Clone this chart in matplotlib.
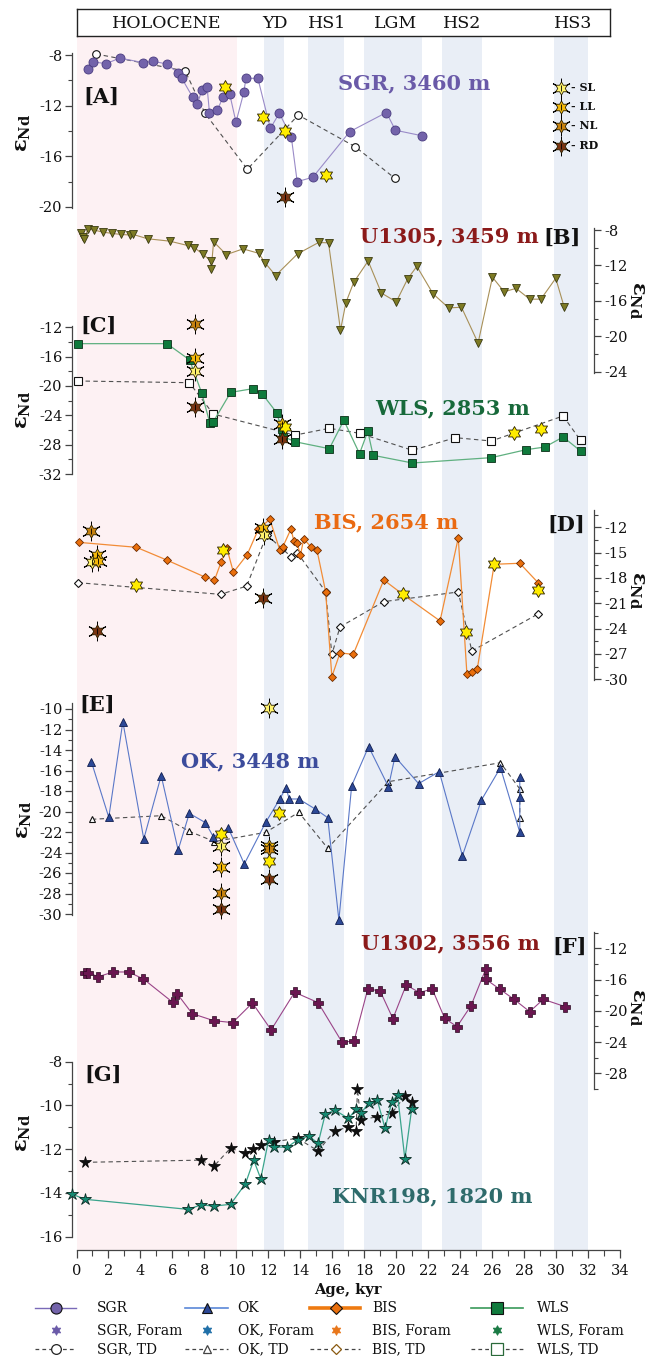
import matplotlib
matplotlib.use("Agg")
import matplotlib.pyplot as plt
from matplotlib.path import Path
from matplotlib.ticker import MultipleLocator

plt.rcParams['font.family'] = ['DejaVu Serif']
plt.rcParams['mathtext.fontset'] = 'dejavuserif'
plt.rcParams['axes.unicode_minus'] = False

# ---------------- DATA ----------------
# period bands (kyr)
period_names = ['HOLOCENE', 'YD', 'HS1', 'LGM', 'HS2', 'HS3']
period_label_age = [5.62, 12.41, 15.67, 19.96, 24.12, 31.1]
holocene_span = (0.0, 10.03)
band_starts = [11.76, 14.48, 18.02, 22.85, 29.86]
band_ends = [12.98, 16.75, 21.64, 25.36, 31.98]

# [A] SGR, 3460 m
sgr_age = [0.70, 1.06, 1.86, 2.71, 4.16, 4.81, 5.66, 6.33, 6.59, 7.26, 7.55, 7.86, 8.17, 8.32, 8.82,
           9.18, 9.59, 9.98, 10.47, 10.60, 11.35, 12.13, 12.69, 13.44, 13.81, 14.79, 17.10, 19.39, 19.96, 21.64]
sgr_end = [-9.10, -8.55, -8.68, -8.24, -8.60, -8.50, -8.71, -9.39, -9.84, -11.31, -11.89, -10.76, -10.50, -12.54,
           -12.34, -11.28, -11.10, -13.30, -10.95, -9.84, -9.84, -13.79, -12.60, -14.45, -18.00, -17.65, -14.05,
           -12.54, -13.94, -14.38]
sgr_td_age = [1.22, 6.80, 8.04, 10.69, 13.88, 17.45, 19.91]
sgr_td_end = [-7.92, -9.26, -12.60, -17.02, -12.74, -15.25, -17.72]
sgr_foram_age = [9.29, 11.69, 13.05, 15.61, 13.05]
sgr_foram_end = [-10.50, -12.87, -13.97, -17.47, -19.23]
sgr_foram_kind = ['Y', 'Y', 'Y', 'Y', 'RD']

# [B] U1305, 3459 m
u1305_age = [0.31, 0.39, 0.47, 0.72, 1.09, 1.63, 2.20, 2.77, 3.36, 3.54, 4.45, 5.84, 6.95, 7.37, 7.91, 8.43,
             8.43, 8.58, 9.38, 10.42, 11.40, 11.81, 12.46, 13.83, 15.15, 15.77, 16.52, 16.86, 17.35, 18.25,
             19.08, 20.01, 20.73, 21.30, 22.31, 23.29, 24.09, 25.13, 26.03, 26.76, 27.51, 28.36, 29.06, 29.99,
             30.51]
u1305_end = [-8.30, -8.76, -9.07, -7.89, -8.00, -8.23, -8.38, -8.50, -8.57, -8.50, -8.99, -9.26, -9.75, -9.98,
             -10.74, -11.50, -12.42, -9.33, -10.78, -10.13, -10.63, -11.73, -13.14, -10.70, -9.41, -9.45, -19.31,
             -16.19, -13.90, -11.50, -15.12, -16.11, -13.49, -12.11, -15.20, -16.80, -16.72, -20.76, -13.33,
             -14.97, -14.59, -15.81, -15.81, -13.45, -16.65]

# [C] WLS, 2853 m
wls_age = [0.08, 5.66, 7.08, 7.83, 8.35, 8.56, 9.65, 11.03, 11.63, 12.53, 12.84, 12.95, 13.67, 15.82, 16.73,
           17.71, 18.23, 18.56, 21.02, 25.96, 28.15, 29.32, 30.45, 31.54]
wls_end = [-14.23, -14.23, -16.45, -20.92, -25.10, -24.88, -20.87, -20.37, -21.10, -23.65, -25.90, -26.90,
           -27.60, -28.55, -24.68, -29.23, -26.18, -29.45, -30.50, -29.77, -28.68, -28.32, -26.95, -28.86]
wls_td_age = [0.08, 7.06, 8.56, 13.67, 15.82, 17.71, 21.02, 23.71, 25.96, 30.45, 31.54]
wls_td_end = [-19.32, -19.55, -23.83, -26.70, -25.77, -26.45, -28.77, -27.05, -27.50, -24.09, -27.41]
wls_foram_age = [7.42, 7.42, 7.42, 7.42, 12.84, 13.05, 12.84, 27.35, 29.08]
wls_foram_end = [-11.55, -16.23, -17.96, -22.90, -25.20, -25.60, -27.20, -26.45, -25.91]
wls_foram_kind = ['NL', 'LL', 'SL', 'RD', 'LL', 'Y', 'RD', 'Y', 'Y']

# [D] BIS, 2654 m
bis_age = [0.13, 3.75, 5.64, 8.07, 8.63, 9.05, 9.41, 9.82, 10.68, 11.38, 12.10, 12.72, 12.90, 13.42, 13.60,
           13.81, 14.01, 14.22, 14.66, 15.05, 15.59, 15.98, 16.49, 17.32, 19.23, 20.42, 22.75, 23.89, 24.43,
           24.77, 25.08, 26.14, 27.74, 28.88]
bis_end = [-13.78, -14.37, -15.87, -17.92, -18.28, -16.11, -14.49, -17.33, -15.24, -12.24, -11.05, -14.68,
           -14.37, -12.20, -13.58, -13.82, -15.32, -13.38, -14.29, -14.72, -19.62, -29.69, -26.88, -27.04,
           -18.24, -19.94, -23.09, -13.26, -29.33, -29.09, -28.78, -16.38, -16.26, -18.55]
bis_td_age = [0.11, 9.02, 10.65, 11.90, 12.87, 13.42, 13.81, 15.59, 15.98, 16.49, 19.23, 23.89, 24.74, 28.88]
bis_td_end = [-18.56, -19.94, -18.96, -12.90, -14.53, -15.47, -15.00, -19.62, -27.04, -23.80, -20.80, -19.66,
              -26.65, -22.26]
bis_foram_age = [0.91, 1.26, 0.95, 1.33, 1.30, 3.70, 9.15, 11.69, 11.75, 11.69, 20.42, 24.35, 26.14, 28.88]
bis_foram_end = [-12.40, -15.28, -16.07, -16.00, -24.25, -18.84, -14.69, -12.12, -12.91, -20.34, -19.94,
                 -24.36, -16.38, -19.42]
bis_foram_kind = ['NL', 'LL', 'SL', 'LL', 'RD', 'Y', 'Y', 'LL', 'SL', 'RD', 'Y', 'Y', 'Y', 'Y']

# [E] OK, 3448 m
ok_age = [0.93, 2.02, 2.90, 4.21, 5.30, 6.36, 7.06, 8.07, 8.56, 9.51, 10.50, 11.84, 12.72, 13.11, 13.31, 13.91,
          14.94, 15.72, 16.42, 17.22, 18.28, 19.52, 19.93, 21.41, 22.70, 24.15, 25.34, 26.53, 27.74, 27.74, 27.74]
ok_end = [-15.14, -20.57, -11.24, -22.68, -16.50, -23.76, -20.18, -21.09, -22.46, -21.64, -25.12, -21.06,
          -18.78, -17.67, -18.78, -18.78, -19.76, -20.60, -30.59, -17.48, -13.67, -17.58, -14.65, -17.28,
          -16.11, -24.31, -18.88, -15.72, -22.03, -18.62, -16.67]
ok_td_age = [0.96, 5.30, 7.06, 8.63, 11.84, 13.91, 15.72, 19.52, 26.53, 27.74, 27.74]
ok_td_end = [-20.76, -20.41, -21.93, -22.94, -22.03, -20.08, -23.59, -17.09, -15.24, -17.80, -20.67]
ok_foram_age = [12.05, 9.02, 9.02, 9.02, 9.02, 9.02, 12.67, 12.05, 12.05, 12.05, 12.05]
ok_foram_end = [-9.93, -22.20, -23.33, -25.38, -27.92, -29.54, -20.10, -23.33, -23.65, -24.80, -26.60]
ok_foram_kind = ['SL', 'Y', 'SL', 'LL', 'NL', 'RD', 'Y', 'LL', 'NL', 'Y', 'RD']

# [F] U1302, 3556 m
u1302_age = [0.52, 0.70, 1.37, 2.30, 3.26, 4.19, 6.02, 6.31, 7.24, 8.58, 9.77, 11.01, 12.18, 13.65, 15.12,
             16.62, 17.37, 18.23, 19.00, 19.80, 20.63, 21.46, 22.26, 23.04, 23.81, 24.69, 25.62, 25.62, 26.50,
             27.38, 28.36, 29.21, 30.58]
u1302_end = [-15.11, -15.11, -15.63, -15.03, -15.03, -15.93, -18.91, -17.84, -20.36, -21.26, -21.51, -19.00,
             -22.45, -17.63, -18.95, -24.03, -23.86, -17.20, -17.46, -21.00, -16.69, -17.67, -17.20, -20.96,
             -22.03, -19.34, -14.60, -15.97, -17.25, -18.53, -20.11, -18.53, -19.47]

# [G] KNR198, 1820 m
knr_age = [-0.26, 0.54, 6.98, 7.78, 8.61, 9.64, 10.57, 11.09, 11.53, 12.02, 12.33, 13.16, 13.83, 14.53, 15.12,
           15.56, 16.16, 17.01, 17.50, 17.79, 18.28, 18.82, 19.31, 19.73, 20.09, 20.55, 20.97]
knr_end = [-14.06, -14.29, -14.75, -14.55, -14.60, -14.52, -13.58, -12.50, -13.35, -11.58, -11.89, -11.92,
           -11.58, -11.40, -11.73, -10.41, -10.21, -10.59, -10.18, -10.36, -9.90, -9.75, -11.05, -9.84, -9.52,
           -12.45, -10.18]
knr_td_age = [0.54, 7.78, 8.61, 9.64, 10.57, 11.04, 11.53, 12.33, 13.83, 15.12, 16.16, 17.01, 17.50, 17.58,
              17.79, 18.82, 19.73, 20.55, 20.97]
knr_td_end = [-12.60, -12.50, -12.77, -11.95, -12.19, -12.01, -11.82, -11.66, -11.50, -12.08, -11.15, -11.00,
              -11.17, -9.26, -10.67, -10.51, -10.36, -9.57, -9.83]

x_ticks = list(range(0, 35, 2))

# ---------------- LAYOUT ----------------
W, H = 647, 1356
fig = plt.figure(figsize=(W / 100, H / 100), dpi=100)

X0 = 76.5       # px of age 0
PXK = 15.98     # px per kyr
XL = (-0.28, 34.3)


def xpx(age):
    return X0 + age * PXK


AX_L = xpx(XL[0]) / W
AX_W = (xpx(XL[1]) - xpx(XL[0])) / W
RIGHT_SPINE = 32.4
TOP_SHADE, BOT_SHADE = 36.0, 1249.8

# background shading
bg = fig.add_axes([AX_L, 1 - BOT_SHADE / H, AX_W, (BOT_SHADE - TOP_SHADE) / H], zorder=0)
bg.set_xlim(XL)
bg.set_ylim(0, 1)
bg.axis('off')
bg.axvspan(*holocene_span, color='#fdf1f3', lw=0)
for s, e in zip(band_starts, band_ends):
    bg.axvspan(s, e, color='#e9eef6', lw=0)

# header box
hx0, hx1 = 0.0, 33.4
hd = fig.add_axes([xpx(hx0) / W, 1 - 36.0 / H, (xpx(hx1) - xpx(hx0)) / W, (36.0 - 9.3) / H], zorder=1)
hd.set_xlim(hx0, hx1)
hd.set_ylim(0, 1)
hd.set_xticks([])
hd.set_yticks([])
for sp in hd.spines.values():
    sp.set_linewidth(1.0)
    sp.set_color('#222222')
for name, a in zip(period_names, period_label_age):
    hd.text(a, 0.47, name, ha='center', va='center', fontsize=12.5, color='#111111')

SPINE_C = '#444444'


def panel(v1, p1, v2, p2, ylim, side, major, minor):
    k = (p2 - p1) / (v1 - v2)
    top_px = p1 - (ylim[1] - v1) * k
    bot_px = p2 + (v2 - ylim[0]) * k
    ax = fig.add_axes([AX_L, 1 - bot_px / H, AX_W, (bot_px - top_px) / H], zorder=2)
    ax.set_xlim(XL)
    ax.set_ylim(ylim)
    ax.patch.set_visible(False)
    for s in ['top', 'bottom', 'left', 'right']:
        ax.spines[s].set_visible(False)
    ax.set_xticks([])
    sp = ax.spines[side]
    sp.set_visible(True)
    sp.set_color(SPINE_C)
    sp.set_linewidth(0.9)
    if side == 'right':
        sp.set_position(('data', RIGHT_SPINE))
        ax.yaxis.tick_right()
    else:
        ax.yaxis.tick_left()
    ax.yaxis.set_major_locator(MultipleLocator(major))
    ax.yaxis.set_minor_locator(MultipleLocator(minor))
    ax.tick_params(axis='y', which='major', direction='out', length=5, width=0.9, color=SPINE_C,
                   labelsize=10.5, pad=2, labelcolor='#111111')
    ax.tick_params(axis='y', which='minor', direction='out', length=3, width=0.8, color=SPINE_C)
    return ax


axA = panel(-8, 55.0, -20, 207.0, (-20.1, -7.85), 'left', 4, 2)
axB = panel(-8, 230.0, -24, 371.7, (-24.1, -7.8), 'right', 4, 2)
axC = panel(-12, 327.3, -32, 474.0, (-32.05, -11.85), 'left', 4, 2)
axD = panel(-12, 527.3, -30, 679.3, (-30.05, -10.0), 'right', 3, 1.5)
axE = panel(-10, 709.0, -30, 914.0, (-30.05, -9.4), 'left', 2, 1)
axF = panel(-12, 948.3, -28, 1073.3, (-30.05, -9.9), 'right', 4, 2)
axG = panel(-8, 1061.7, -16, 1236.7, (-16.6, -8.0), 'left', 2, 1)
axG.spines['left'].set_bounds(-16, -8)
axG.set_yticks([-8, -10, -12, -14, -16])

# bottom age axis on panel G
axG.spines['bottom'].set_visible(True)
axG.spines['bottom'].set_bounds(0, 34)
axG.spines['bottom'].set_color(SPINE_C)
axG.spines['bottom'].set_linewidth(0.9)
axG.set_xticks(x_ticks)
axG.xaxis.set_minor_locator(MultipleLocator(1))
axG.set_xlim(XL)
axG.tick_params(axis='x', which='major', direction='out', length=6, width=0.9, color=SPINE_C,
                labelsize=10.5, pad=4, labelcolor='#111111')
axG.tick_params(axis='x', which='minor', direction='out', length=4, width=0.8, color=SPINE_C)

# ---------------- MARKERS ----------------
STAR6 = Path.unit_regular_star(6, 0.57)
FORAM_COL = {'Y': '#ffec00', 'SL': '#fff36e', 'LL': '#f5b90a', 'NL': '#c7820f', 'RD': '#7a3412'}
TD_KW = dict(ls=(0, (4, 3)), lw=0.8, color='#505050', zorder=3, clip_on=False)


def forams(ax, ages, vals, kinds):
    for a, v, k in zip(ages, vals, kinds):
        if k != 'Y':
            ax.plot([a], [v], marker=(6, 2, 0), ms=14, mec='#000000', mew=0.7, ls='none', zorder=6,
                    clip_on=False)
        ax.plot([a], [v], marker=STAR6, ms=10 if k == 'Y' else 9.5, mfc=FORAM_COL[k], mec='#2a2000',
                mew=0.6, ls='none', zorder=7, clip_on=False)
        if k != 'Y':
            ax.plot([a], [v], marker='|', ms=5, mec='#000000', mew=0.6, ls='none', zorder=8,
                    clip_on=False)


# [A]
axA.plot(sgr_td_age, sgr_td_end, **TD_KW)
axA.plot(sgr_td_age, sgr_td_end, ls='none', marker='o', ms=5.5, mfc='white', mec='#111111', mew=0.8,
         zorder=4, clip_on=False)
axA.plot(sgr_age, sgr_end, '-', color='#9a8bc8', lw=0.8, marker='o', ms=6.5, mfc='#7363aa',
         mec='#4a3c80', mew=0.6, zorder=5, clip_on=False)
forams(axA, sgr_foram_age, sgr_foram_end, sgr_foram_kind)

# [B]
axB.plot(u1305_age, u1305_end, '-', color='#a89058', lw=0.8, marker='v', ms=5.5, mfc='#7d7a24',
         mec='#3a3a10', mew=0.6, zorder=5, clip_on=False)

# [C]
axC.plot(wls_td_age, wls_td_end, **TD_KW)
axC.plot(wls_td_age, wls_td_end, ls='none', marker='s', ms=5.5, mfc='white', mec='#111111', mew=0.8,
         zorder=4, clip_on=False)
axC.plot(wls_age, wls_end, '-', color='#5fb080', lw=0.9, marker='s', ms=5.5, mfc='#0f7a3c',
         mec='#0a3018', mew=0.6, zorder=5, clip_on=False)
forams(axC, wls_foram_age, wls_foram_end, wls_foram_kind)

# [D]
axD.plot(bis_td_age, bis_td_end, **TD_KW)
axD.plot(bis_td_age, bis_td_end, ls='none', marker='D', ms=3.8, mfc='white', mec='#111111', mew=0.8,
         zorder=4, clip_on=False)
axD.plot(bis_age, bis_end, '-', color='#f28c36', lw=0.9, marker='D', ms=4, mfc='#ea6f0c',
         mec='#6a2a00', mew=0.6, zorder=5, clip_on=False)
forams(axD, bis_foram_age, bis_foram_end, bis_foram_kind)

# [E]
axE.plot(ok_td_age, ok_td_end, **TD_KW)
axE.plot(ok_td_age, ok_td_end, ls='none', marker='^', ms=5, mfc='white', mec='#111111', mew=0.8,
         zorder=4, clip_on=False)
axE.plot(ok_age, ok_end, '-', color='#5a78c8', lw=0.8, marker='^', ms=5.5, mfc='#2c4896',
         mec='#101e50', mew=0.6, zorder=5, clip_on=False)
forams(axE, ok_foram_age, ok_foram_end, ok_foram_kind)

# [F]
axF.plot(u1302_age, u1302_end, '-', color='#9a4488', lw=0.8, marker='P', ms=6.5, mfc='#6a1650',
         mec='#2a0a20', mew=0.5, zorder=5, clip_on=False)

# [G]
axG.plot(knr_td_age, knr_td_end, **TD_KW)
axG.plot(knr_td_age, knr_td_end, ls='none', marker='*', ms=8.5, mfc='#111111', mec='#000000', mew=0.5,
         zorder=4, clip_on=False)
axG.plot(knr_age, knr_end, '-', color='#3aa48c', lw=0.9, marker='*', ms=9, mfc='#158a72',
         mec='#0a2a22', mew=0.6, zorder=5, clip_on=False)

# SL/LL/NL/RD key in [A]
key_kind = ['SL', 'LL', 'NL', 'RD']
key_y = [-10.60, -12.10, -13.60, -15.18]
for k, yv in zip(key_kind, key_y):
    forams(axA, [30.3], [yv], [k])
    axA.text(30.95, yv, '- ' + k, ha='left', va='center', fontsize=8, fontweight='bold', color='#111111')

# ---------------- TEXT OVERLAY ----------------
ov = fig.add_axes([0, 0, 1, 1], zorder=10)
ov.set_xlim(0, W)
ov.set_ylim(H, 0)
ov.axis('off')
ov.patch.set_visible(False)

TITLE_FS = 15
ov.text(414.5, 83, 'SGR, 3460 m', ha='center', va='center', fontsize=TITLE_FS, fontweight='bold', color='#6a5aa8')
ov.text(449.6, 236, 'U1305, 3459 m', ha='center', va='center', fontsize=TITLE_FS, fontweight='bold', color='#8b1a1a')
ov.text(452.5, 408.3, 'WLS, 2853 m', ha='center', va='center', fontsize=TITLE_FS, fontweight='bold', color='#17693a')
ov.text(386.4, 522.3, 'BIS, 2654 m', ha='center', va='center', fontsize=TITLE_FS, fontweight='bold', color='#ea6a12')
ov.text(250.0, 761.7, 'OK, 3448 m', ha='center', va='center', fontsize=TITLE_FS, fontweight='bold', color='#3c4c9c')
ov.text(450.4, 943.3, 'U1302, 3556 m', ha='center', va='center', fontsize=TITLE_FS, fontweight='bold', color='#8b1a1a')
ov.text(431.8, 1196.7, 'KNR198, 1820 m', ha='center', va='center', fontsize=TITLE_FS, fontweight='bold', color='#2e6b6b')

PL_FS = 15
for lab, x, y in [('[A]', 101, 97), ('[B]', 562, 238.3), ('[C]', 99, 326), ('[D]', 566, 525),
                  ('[E]', 97, 705), ('[F]', 570, 946.7), ('[G]', 103, 1075)]:
    ov.text(x, y, lab, ha='center', va='center', fontsize=PL_FS, fontweight='bold', color='#111111')

EPS = 'ε$_{\\mathbf{Nd}}$'
for x, y in [(23, 133), (23, 410), (24.5, 820), (23, 1133)]:
    ov.text(x, y, EPS, ha='center', va='center', fontsize=15, fontweight='bold', rotation=90, color='#111111')
for x, y in [(637, 300), (637, 590), (637, 1007)]:
    ov.text(x, y, EPS, ha='center', va='center', fontsize=15, fontweight='bold', rotation=270, color='#111111')

ov.text(xpx(17), 1290, 'Age, kyr', ha='center', va='center', fontsize=10.5, fontweight='bold', color='#111111')

# bottom legend
rows = [1308.3, 1330.0, 1349.3]
cols = [(35, 76.4, 55.8, 97), (185, 228, 206.6, 237.6), (310, 360, 335.5, 372), (471, 523, 497, 537)]
names = ['SGR', 'OK', 'BIS', 'WLS']
line_cols = ['#7a6ab8', '#5a88d8', '#ee7a10', '#3a9a5a']
mk = ['o', '^', 'D', 's']
mk_fc = ['#7363aa', '#2c4896', '#ea6f0c', '#0f7a3c']
mk_ms = [8, 7, 6, 9]
line_lw = [1.0, 1.2, 2.6, 1.2]
foram_cols = ['#6a5aa8', '#1f6fa8', '#e8761a', '#1a7a44']
td_ec = ['#222222', '#444444', '#8a5a10', '#2a6a3a']
for i, (x0, x1, xm, xt) in enumerate(cols):
    ov.plot([x0, x1], [rows[0]] * 2, '-', color=line_cols[i], lw=line_lw[i])
    ov.plot([xm], [rows[0]], marker=mk[i], ms=mk_ms[i], mfc=mk_fc[i], mec='#111111', mew=0.8)
    ov.text(xt, rows[0], names[i], ha='left', va='center', fontsize=10, color='#111111')
    ov.plot([xm], [rows[1]], marker=STAR6, ms=7, mfc=foram_cols[i], mec=foram_cols[i], mew=0.5)
    ov.text(xt, rows[1], names[i] + ', Foram', ha='left', va='center', fontsize=10, color='#111111')
    ov.plot([x0, x1], [rows[2]] * 2, ls=(0, (3, 2.5)), color='#444444', lw=0.9)
    ov.plot([xm], [rows[2]], marker=mk[i], ms=mk_ms[i] - 1, mfc='white', mec=td_ec[i], mew=0.9)
    ov.text(xt, rows[2], names[i] + ', TD', ha='left', va='center', fontsize=10, color='#111111')

fig.savefig('out.png', dpi=100)
